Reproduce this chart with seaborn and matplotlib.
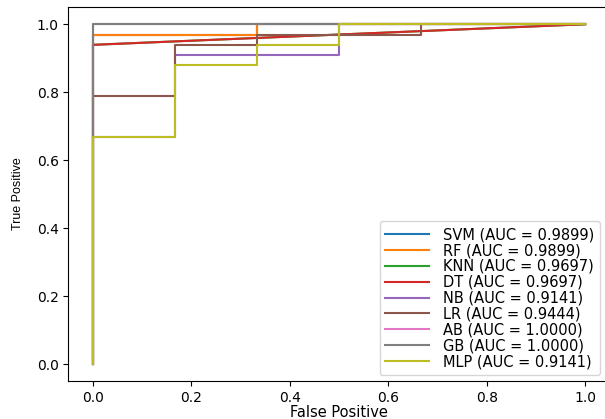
import numpy as np
import pandas as pd
import matplotlib
matplotlib.use("Agg")
import matplotlib.pyplot as plt
import seaborn as sns

models = ["SVM", "RF", "KNN", "DT", "NB", "LR", "AB", "GB", "MLP"]
auc = [0.9899, 0.9899, 0.9697, 0.9697, 0.9141, 0.9444, 1.0000, 1.0000, 0.9141]

fpr_svm = [0.0, 0.0, 0.3333, 0.3333, 1.0]
tpr_svm = [0.0, 0.9697, 0.9697, 1.0, 1.0]
fpr_rf = [0.0, 0.0, 0.3333, 0.3333, 1.0]
tpr_rf = [0.0, 0.9697, 0.9697, 1.0, 1.0]
fpr_knn = [0.0, 0.0, 1.0]
tpr_knn = [0.0, 0.9394, 1.0]
fpr_dt = [0.0, 0.0, 1.0]
tpr_dt = [0.0, 0.9394, 1.0]
fpr_nb = [0.0, 0.0, 0.1667, 0.1667, 0.5, 0.5, 1.0]
tpr_nb = [0.0, 0.6667, 0.6667, 0.9091, 0.9091, 1.0, 1.0]
fpr_lr = [0.0, 0.0, 0.1667, 0.1667, 0.3333, 0.3333, 0.6667, 0.6667, 1.0]
tpr_lr = [0.0, 0.7879, 0.7879, 0.9394, 0.9394, 0.9697, 0.9697, 1.0, 1.0]
fpr_ab = [0.0, 0.0, 1.0]
tpr_ab = [0.0, 1.0, 1.0]
fpr_gb = [0.0, 0.0, 1.0]
tpr_gb = [0.0, 1.0, 1.0]
fpr_mlp = [0.0, 0.0, 0.1667, 0.1667, 0.3333, 0.3333, 0.5, 0.5, 1.0]
tpr_mlp = [0.0, 0.6667, 0.6667, 0.8788, 0.8788, 0.9394, 0.9394, 1.0, 1.0]

fprs = [fpr_svm, fpr_rf, fpr_knn, fpr_dt, fpr_nb, fpr_lr, fpr_ab, fpr_gb, fpr_mlp]
tprs = [tpr_svm, tpr_rf, tpr_knn, tpr_dt, tpr_nb, tpr_lr, tpr_ab, tpr_gb, tpr_mlp]

rows = []
for m, a, fx, ty in zip(models, auc, fprs, tprs):
    label = f"{m} (AUC = {a:.4f})"
    for i, (x, y) in enumerate(zip(fx, ty)):
        rows.append({"model": label, "fpr": x, "tpr": y, "order": i})
df = pd.DataFrame(rows)
labels = [f"{m} (AUC = {a:.4f})" for m, a in zip(models, auc)]

plt.rcParams["font.family"] = ["DejaVu Sans"]
fig = plt.figure(figsize=(6.05, 4.19), dpi=100)
ax = fig.add_axes([0.113, 0.0907, 0.895, 0.892])
sns.lineplot(data=df, x="fpr", y="tpr", hue="model", hue_order=labels,
             palette=sns.color_palette("tab10", 9), sort=False, estimator=None,
             linewidth=1.5, ax=ax)
ax.set_xlabel("False Positive", fontsize=10.5, family="DejaVu Sans", labelpad=0.5)
ax.set_ylabel("True Positive", fontsize=9, family="Liberation Sans", labelpad=9)
ax.set_xticks([0.0, 0.2, 0.4, 0.6, 0.8, 1.0])
ax.set_yticks([0.0, 0.2, 0.4, 0.6, 0.8, 1.0])
ax.tick_params(labelsize=10)
ax.set_xlim(-0.05, 1.05)
ax.set_ylim(-0.05, 1.05)
ax.legend(loc="lower right", prop={"family": "DejaVu Sans", "size": 10.5},
          bbox_to_anchor=(0.982, 0.016), borderaxespad=0, labelspacing=0.06,
          handlelength=3.0, handletextpad=0.95, borderpad=0.4)
fig.savefig("out.png", dpi=100)
